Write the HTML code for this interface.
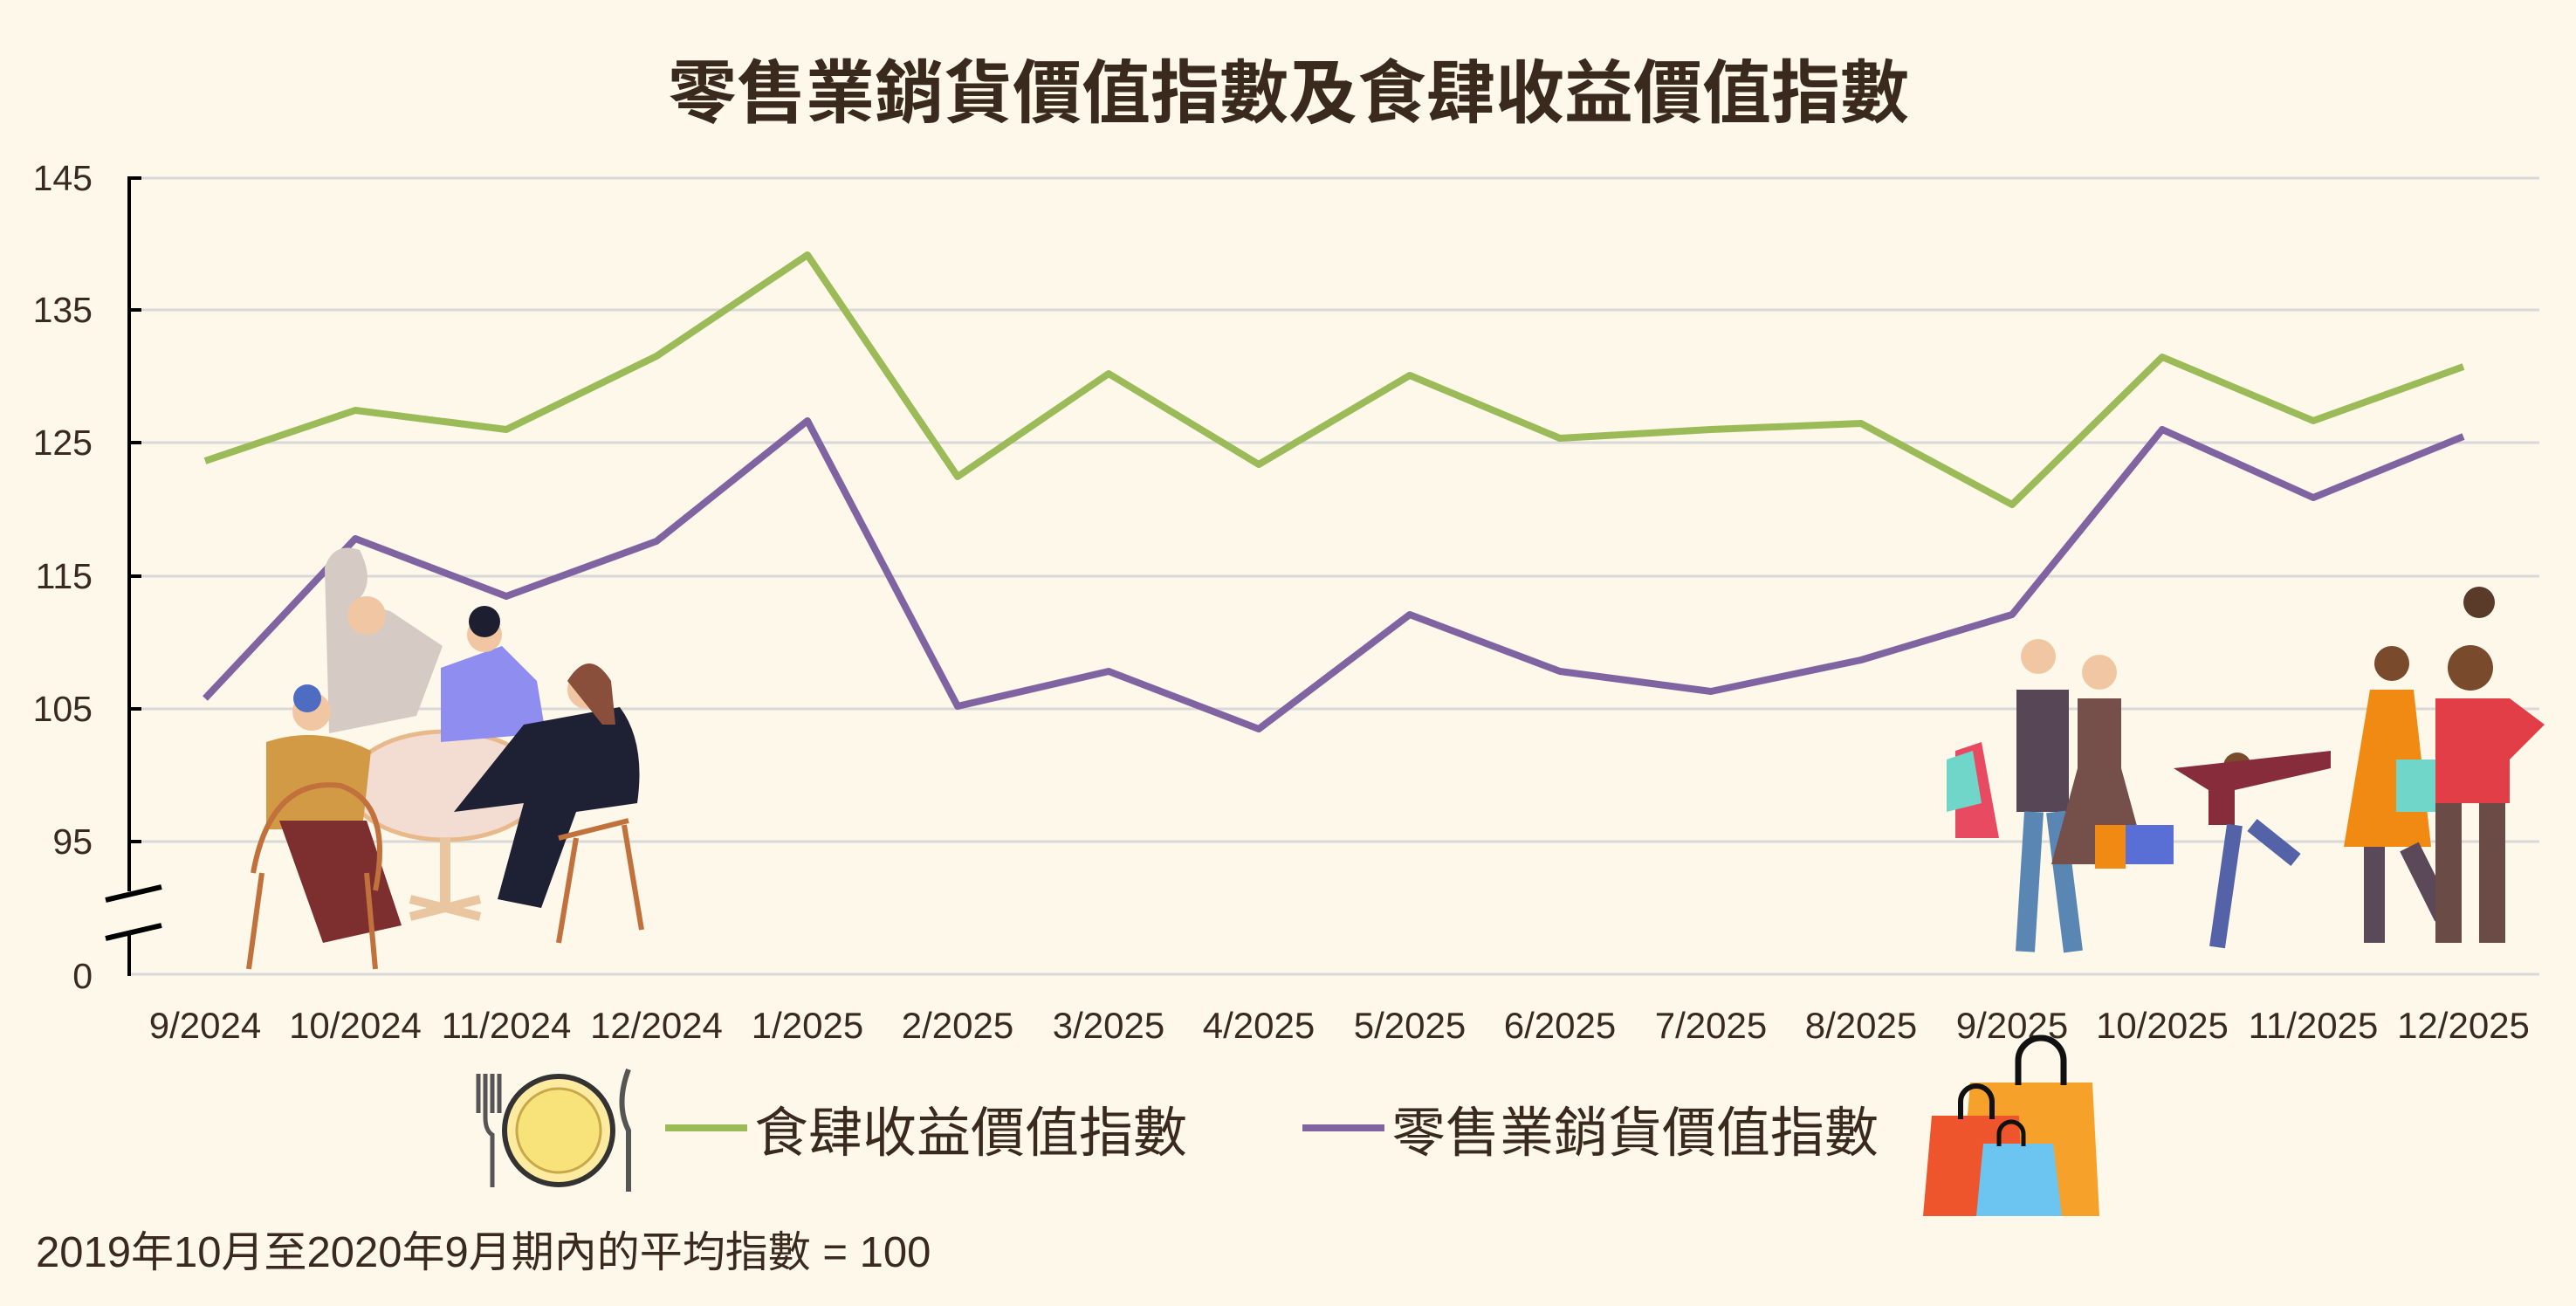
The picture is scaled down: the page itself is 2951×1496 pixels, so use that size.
<!DOCTYPE html>
<html><head><meta charset="utf-8"><style>
html,body{margin:0;padding:0;background:#fdf8e9;}
svg{display:block;}
text{font-family:"Liberation Sans","Noto Sans CJK TC",sans-serif;fill:#3a2a1e;}
</style></head><body>
<svg width="2951" height="1496" viewBox="0 0 2951 1496" xmlns="http://www.w3.org/2000/svg">
<rect width="2951" height="1496" fill="#fdf8e9"/>
<text x="1476" y="134" text-anchor="middle" font-size="79" font-weight="bold" style="font-family:'Noto Sans CJK TC',sans-serif">零售業銷貨價值指數及食肆收益價值指數</text>
<g stroke="#d9d9d9" stroke-width="3">
<line x1="148" y1="204" x2="2909" y2="204"/><line x1="148" y1="355" x2="2909" y2="355"/>
<line x1="148" y1="507" x2="2909" y2="507"/><line x1="148" y1="660" x2="2909" y2="660"/>
<line x1="148" y1="812" x2="2909" y2="812"/><line x1="148" y1="964" x2="2909" y2="964"/>
<line x1="148" y1="1116" x2="2909" y2="1116"/>
</g>
<g stroke="#000" stroke-width="4">
<line x1="148" y1="202" x2="148" y2="1021"/><line x1="148" y1="1068" x2="148" y2="1118"/>
<line x1="148" y1="204" x2="162" y2="204"/><line x1="148" y1="355" x2="162" y2="355"/>
<line x1="148" y1="507" x2="162" y2="507"/><line x1="148" y1="660" x2="162" y2="660"/>
<line x1="148" y1="812" x2="162" y2="812"/><line x1="148" y1="964" x2="162" y2="964"/>
<line x1="121" y1="1031" x2="185" y2="1016" stroke-width="6"/>
<line x1="121" y1="1075" x2="185" y2="1060" stroke-width="6"/>
</g>
<g font-size="41" text-anchor="end">
<text x="106" y="218">145</text><text x="106" y="369">135</text><text x="106" y="521">125</text>
<text x="106" y="674">115</text><text x="106" y="826">105</text><text x="106" y="978">95</text>
<text x="106" y="1132">0</text>
</g>
<g font-size="42" text-anchor="middle">
<text x="235" y="1189">9/2024</text><text x="407" y="1189">10/2024</text><text x="580" y="1189">11/2024</text>
<text x="752" y="1189">12/2024</text><text x="925" y="1189">1/2025</text><text x="1097" y="1189">2/2025</text>
<text x="1270" y="1189">3/2025</text><text x="1442" y="1189">4/2025</text><text x="1615" y="1189">5/2025</text>
<text x="1787" y="1189">6/2025</text><text x="1960" y="1189">7/2025</text><text x="2132" y="1189">8/2025</text>
<text x="2305" y="1189">9/2025</text><text x="2477" y="1189">10/2025</text><text x="2650" y="1189">11/2025</text>
<text x="2822" y="1189">12/2025</text>
</g>
<polyline fill="none" stroke="#9bbb59" stroke-width="8" stroke-linejoin="round" points="235,528 407,470 580,492 752,408 925,292 1097,546 1270,428 1442,532 1615,430 1787,502 1960,492 2132,485 2305,578 2477,409 2650,482 2822,420"/>
<polyline fill="none" stroke="#8064a2" stroke-width="8" stroke-linejoin="round" points="235,800 407,617 580,683 752,620 925,482 1097,809 1270,769 1442,835 1615,704 1787,769 1960,792 2132,756 2305,704 2477,492 2650,570 2822,500"/>
<g>
<ellipse cx="510" cy="900" rx="110" ry="62" fill="#f3dcd2" stroke="#e8b98a" stroke-width="5"/>
<rect x="504" y="960" width="12" height="80" fill="#e9c6a0"/>
<path d="M470 1050 L550 1030 M470 1030 L550 1050" stroke="#e9c6a0" stroke-width="10"/>
<path d="M372 650 q10-30 40-20 q20 40 -5 60 l40 10 l60 40 l-30 80 l-100 20 z" fill="#d5cbc4"/>
<circle cx="420" cy="705" r="22" fill="#f1c7a3"/>
<path d="M505 765 l70-25 l40 40 l10 60 l-120 10 z" fill="#8f8ef0"/>
<circle cx="555" cy="727" r="20" fill="#f1c7a3"/><circle cx="555" cy="712" r="18" fill="#1d1f30"/>
<path d="M305 850 q60-20 120 10 l-10 90 l-110 0 z" fill="#d39a45"/>
<circle cx="357" cy="815" r="22" fill="#f1c7a3"/><circle cx="352" cy="800" r="16" fill="#4e6cc2"/>
<path d="M320 940 l100 0 l40 120 l-90 20 z" fill="#7d2e2e"/>
<path d="M600 830 l110 -20 q30 40 20 110 l-70 10 l-40 110 l-50 -10 l30 -110 l-80 10 z" fill="#1e2033"/>
<circle cx="672" cy="790" r="22" fill="#f1c7a3"/><path d="M650 780 q25-40 50 0 l5 50 l-15 0 z" fill="#8a4f3a"/>
<path d="M290 1000 q20-110 100-100 q60 20 40 120 M300 1000 l-15 110 M420 1000 l10 110" stroke="#c0713c" stroke-width="6" fill="none"/>
<path d="M640 960 l80 -20 M660 960 l-20 120 M715 945 l20 120" stroke="#c0713c" stroke-width="6" fill="none"/>
</g>
<g>
<circle cx="2335" cy="752" r="20" fill="#f1c7a3"/><path d="M2310 790 h60 v140 h-60z" fill="#574656"/>
<path d="M2330 930 l-10 160 M2355 930 l20 160" stroke="#5a86b3" stroke-width="22"/>
<circle cx="2405" cy="770" r="20" fill="#f1c7a3"/><path d="M2380 800 h50 v80 l30 110 h-110 l30 -110z" fill="#754f4a"/>
<path d="M2240 860 l30-10 l20 110 l-50 0z" fill="#e84b61"/><path d="M2230 870 l30 -10 l10 60 l-40 10z" fill="#6fd6c9"/>
<path d="M2430 945 h60 v45 h-60z" fill="#5a6fd6"/><path d="M2400 945 h35 v50 h-35z" fill="#f08a12"/>
<circle cx="2563" cy="878" r="16" fill="#7a4a2c"/><path d="M2490 880 l180 -20 v20 l-110 25 v40 h-30 v-40z" fill="#862c3a"/>
<path d="M2560 945 l-20 140 M2580 945 l50 40" stroke="#5462a8" stroke-width="18"/>
<circle cx="2740" cy="760" r="20" fill="#7a4a2c"/><path d="M2715 790 h50 l20 180 h-100z" fill="#f08a12"/>
<path d="M2720 970 v110 M2760 970 l40 80" stroke="#5b4858" stroke-width="24"/>
<path d="M2745 870 h70 v60 h-70z" fill="#6fd6c9"/>
<circle cx="2830" cy="765" r="26" fill="#7a4a2c"/><circle cx="2840" cy="690" r="18" fill="#5a3a28"/>
<path d="M2790 800 h85 l40 30 l-40 40 v50 h-85z" fill="#e23e48"/>
<path d="M2805 920 v160 M2855 920 v160" stroke="#6b4b45" stroke-width="30"/>
</g>
<g>
<path d="M556 1230 v50 q0 15 8 20 v60 M548 1230 v45 M564 1230 v45 M572 1230 v45" stroke="#555" stroke-width="5" fill="none"/>
<circle cx="640" cy="1295" r="62" fill="#ffeba0" stroke="#333" stroke-width="6"/>
<circle cx="640" cy="1295" r="48" fill="#f8e27a" stroke="#c9a84a" stroke-width="3"/>
<path d="M720 1225 q-15 40 0 70 v70" stroke="#555" stroke-width="6" fill="none"/>
</g>
<line x1="762" y1="1292" x2="856" y2="1292" stroke="#9bbb59" stroke-width="8"/>
<text x="864" y="1319" font-size="62">食肆收益價值指數</text>
<line x1="1492" y1="1292" x2="1586" y2="1292" stroke="#8064a2" stroke-width="8"/>
<text x="1594" y="1319" font-size="62">零售業銷貨價值指數</text>
<g>
<path d="M2257 1240 h140 l8 153 h-160z" fill="#f6a12a"/>
<path d="M2312 1243 v-28 a26 26 0 0 1 52 0 v28" stroke="#111" stroke-width="7" fill="none"/>
<path d="M2213 1278 h100 l5 115 h-115z" fill="#ee552d"/>
<path d="M2246 1282 v-20 a18 18 0 0 1 36 0 v20" stroke="#111" stroke-width="6" fill="none"/>
<path d="M2272 1310 h80 l10 83 h-98z" fill="#6cc5f0"/>
<path d="M2290 1313 v-14 a14 14 0 0 1 28 0 v14" stroke="#111" stroke-width="5" fill="none"/>
</g>
<text x="41" y="1451" font-size="49">2019年10月至2020年9月期內的平均指數 = 100</text>
</svg>
</body></html>
